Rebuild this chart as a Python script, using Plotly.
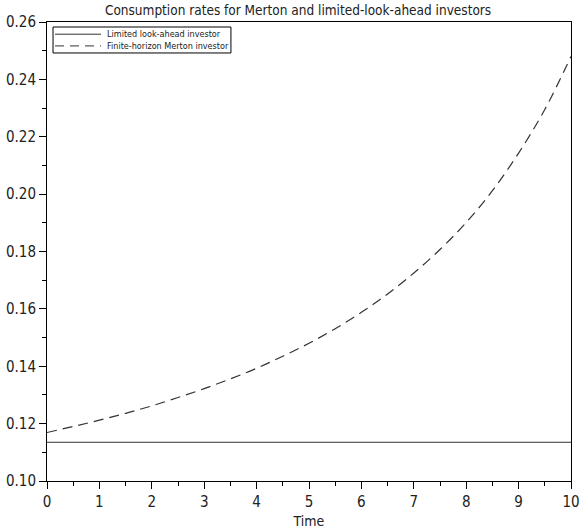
import plotly.graph_objects as go

# Time grid and read-off values
time = [0, 0.5, 1, 1.5, 2, 2.5, 3, 3.5, 4, 4.5, 5, 5.5, 6, 6.5, 7, 7.5, 8, 8.5, 9, 9.5, 10]
merton = [0.1169, 0.1190, 0.1212, 0.1236, 0.1262, 0.1291, 0.1322, 0.1356, 0.1393, 0.1435,
          0.1480, 0.1531, 0.1588, 0.1652, 0.1725, 0.1807, 0.1901, 0.2012, 0.2143, 0.2295, 0.2480]
limited = [0.1135] * len(time)

series_names = ["Limited look-ahead investor", "Finite-horizon Merton investor"]
title_text = "Consumption rates for Merton and limited-look-ahead investors"
x_title = "Time"

FONT = "DejaVu Sans Condensed, DejaVu Sans, sans-serif"
TXT = "#222222"
LINE = "#333333"
dashes = ["solid", "9px,6px"]

fig = go.Figure()
fig.add_trace(go.Scatter(x=time, y=limited, mode="lines", name=series_names[0],
                         line=dict(color=LINE, width=1), showlegend=False))
fig.add_trace(go.Scatter(x=time, y=merton, mode="lines", name=series_names[1],
                         line=dict(color=LINE, width=1.2, dash="10px,6px", shape="spline"),
                         showlegend=False))

axis_common = dict(showline=True, linecolor="black", linewidth=1, mirror=True,
                   ticks="outside", ticklen=7, tickwidth=1, tickcolor="black",
                   showgrid=False, zeroline=False, automargin=False,
                   tickfont=dict(family=FONT, size=15, color=TXT))

fig.update_xaxes(range=[0, 10], dtick=1, tick0=0,
                 minor=dict(dtick=0.5, ticks="outside", ticklen=4, tickcolor="black"),
                 title=dict(text=x_title, font=dict(family=FONT, size=14, color=TXT), standoff=6),
                 **axis_common)
fig.update_yaxes(range=[0.10, 0.26], dtick=0.02, tick0=0.10, tickformat=".2f",
                 minor=dict(dtick=0.01, ticks="outside", ticklen=4, tickcolor="black"),
                 **axis_common)

# Legend box drawn in paper coordinates (top-left of plot area)
leg_x0, leg_x1, leg_top, leg_bot = 0.0115, 0.3510, 0.9891, 0.9325
row_y = [0.9734, 0.9479]
sample_x0, sample_x1, text_x, text_y = 0.0153, 0.1031, 0.1107, 0.9608
fig.add_shape(type="rect", xref="paper", yref="paper", x0=leg_x0, x1=leg_x1, y0=leg_bot, y1=leg_top,
              line=dict(color="black", width=1), fillcolor="white", layer="above")
for yy, dsh in zip(row_y, dashes):
    fig.add_shape(type="line", xref="paper", yref="paper", x0=sample_x0, x1=sample_x1, y0=yy, y1=yy,
                  line=dict(color=LINE, width=1, dash=dsh), layer="above")
fig.add_annotation(xref="paper", yref="paper", x=text_x, y=text_y, text="<br>".join(series_names),
                   showarrow=False, align="left", xanchor="left", yanchor="middle",
                   font=dict(family=FONT, size=9, color=TXT))

fig.update_layout(
    width=581, height=531,
    margin=dict(l=47, r=10, t=22, b=50),
    paper_bgcolor="white", plot_bgcolor="white",
    title=dict(text=title_text, x=0.513, xanchor="center", y=0.981, yanchor="middle",
               font=dict(family=FONT, size=13.5, color=TXT)),
    showlegend=False,
)

fig.write_html("out.html")
